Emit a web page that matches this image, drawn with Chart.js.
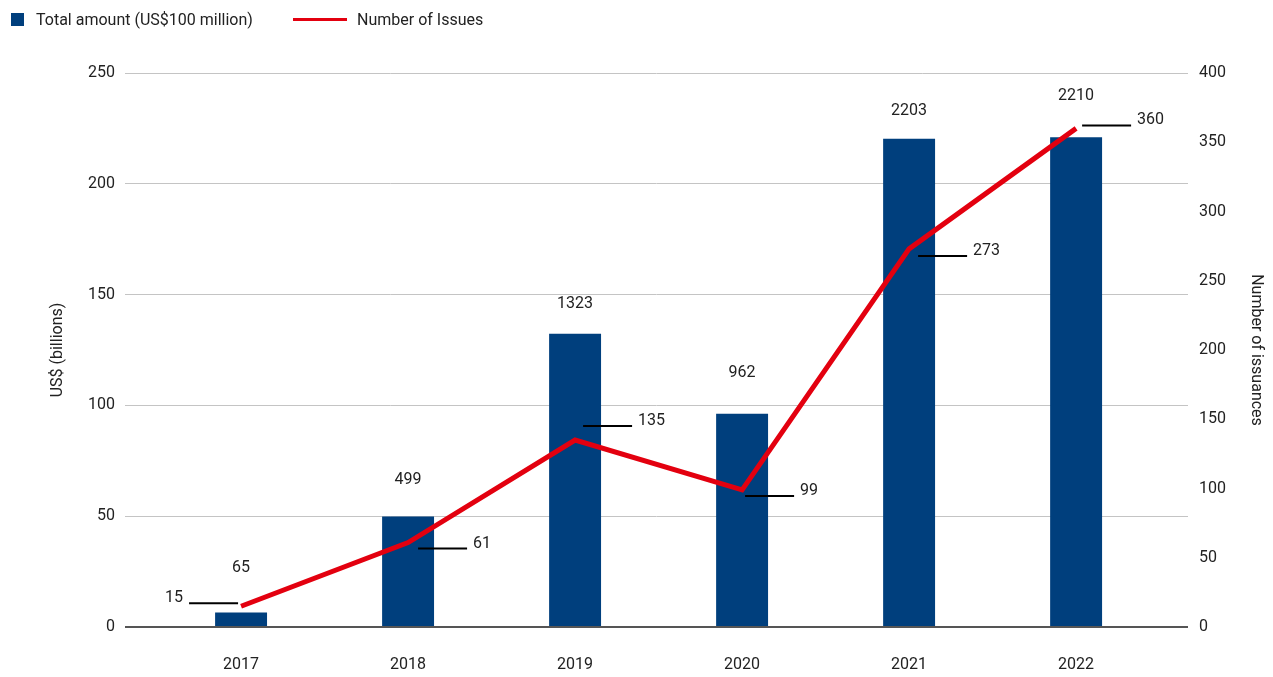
<!DOCTYPE html>
<html>
<head>
<meta charset="utf-8">
<script src="https://cdn.jsdelivr.net/npm/chart.js@4"></script>
<style>
  body { margin: 0; background: #fff; }
  #wrap { position: relative; width: 1273px; height: 677px; }
  #legend { position: absolute; left: 0; top: 0; font-family: Roboto, sans-serif; font-size: 16px; color: #222; }
  #legend .item { position: absolute; top: 10px; white-space: nowrap; }
  #legend .box { position: absolute; }
</style>
</head>
<body>
<div id="wrap">
  <canvas id="c" width="1273" height="677"></canvas>
  <div id="legend"></div>
</div>
<script>
const FONT = "Roboto, sans-serif";

// DATA
const years = ['2017', '2018', '2019', '2020', '2021', '2022'];
const amountBillions = [6.5, 49.9, 132.3, 96.2, 220.3, 221.0];
const amountLabels = ['65', '499', '1323', '962', '2203', '2210'];
const issues = [15, 61, 135, 99, 273, 360];
const leftTicks = [0, 50, 100, 150, 200, 250];
const rightTicks = [0, 50, 100, 150, 200, 250, 300, 350, 400];

// label placement (layout only)
const barLabelLift = [45, 36, 30, 41, 28, 41];
const issueLabelSide = ['left', 'right', 'right', 'right', 'right', 'right'];
const issueLabelDy = [-3, 6, -14, 6, 7, -3];
const issueLabelGap = [3, 10, 8, 3, 9, 6];

const BLUE = '#003f7d';
const RED = '#e3000f';

// custom labels: bar values + leader lines for the issue counts
const labelPlugin = {
    id: 'labels',
    afterDatasetsDraw(chart) {
        const ctx = chart.ctx;
        const x = chart.scales.x, yL = chart.scales.y, yR = chart.scales.y2;
        ctx.save();
        ctx.font = '16px ' + FONT;
        ctx.fillStyle = '#222';
        ctx.textBaseline = 'middle';
        years.forEach((yr, i) => {
            const px = x.getPixelForValue(i);
            ctx.textAlign = 'center';
            ctx.fillText(amountLabels[i], px, yL.getPixelForValue(amountBillions[i]) - barLabelLift[i]);

            const py = yR.getPixelForValue(issues[i]) + issueLabelDy[i];
            const s = issueLabelGap[i];
            ctx.strokeStyle = '#000';
            ctx.lineWidth = 2;
            ctx.beginPath();
            if (issueLabelSide[i] === 'left') {
                ctx.moveTo(px - s - 49, py); ctx.lineTo(px - s, py);
                ctx.stroke();
                ctx.textAlign = 'right';
                ctx.fillText(String(issues[i]), px - s - 55, py - 5);
            } else {
                ctx.moveTo(px + s, py); ctx.lineTo(px + s + 49, py);
                ctx.stroke();
                ctx.textAlign = 'left';
                ctx.fillText(String(issues[i]), px + s + 55, py - 5);
            }
        });
        ctx.restore();
    }
};

const chart = new Chart(document.getElementById('c'), {
    data: {
        datasets: [
            { type: 'line', label: 'Number of Issues', data: issues.map((v, i) => ({ x: i, y: v })), yAxisID: 'y2', borderColor: RED, borderWidth: 5, pointRadius: 0, tension: 0, order: 0 },
            { type: 'bar', label: 'Total amount (US$100 million)', data: amountBillions.map((v, i) => ({ x: i, y: v })), yAxisID: 'y', backgroundColor: BLUE, categoryPercentage: 1, barPercentage: 0.311, order: 1 }
        ]
    },
    options: {
        responsive: false,
        animation: false,
        layout: { padding: { top: 73, left: 0, right: 0, bottom: 0 } },
        plugins: { legend: { display: false }, tooltip: { enabled: false } },
        scales: {
            x: {
                type: 'linear',
                offset: false,
                min: -0.695, max: 5.67,
                afterBuildTicks: s => { s.ticks = years.map((y, i) => ({ value: i })); },
                grid: { display: false, drawTicks: false },
                border: { display: false },
                ticks: { font: { family: FONT, size: 16 }, color: '#222', padding: 28, callback: v => years[v] },
                afterFit: s => { s.height = 50; }
            },
            y: {
                position: 'left',
                min: 0, max: 250,
                afterBuildTicks: s => { s.ticks = leftTicks.map(v => ({ value: v })); },
                grid: {
                    drawTicks: false,
                    color: c => c.tick && c.tick.value === 0 ? '#555' : '#c4c4c4',
                    lineWidth: c => c.tick && c.tick.value === 0 ? 2 : 1
                },
                border: { display: false },
                ticks: { font: { family: FONT, size: 16 }, color: '#222', padding: 10 },
                title: { display: true, text: 'US$ (billions)', font: { family: FONT, size: 16 }, color: '#222', padding: { top: 48, bottom: 0 } },
                afterFit: s => { s.width = 125; }
            },
            y2: {
                position: 'right',
                min: 0, max: 400,
                afterBuildTicks: s => { s.ticks = rightTicks.map(v => ({ value: v })); },
                grid: { display: false, drawTicks: false },
                border: { display: false },
                ticks: { font: { family: FONT, size: 16 }, color: '#222', padding: 11 },
                title: { display: true, text: 'Number of issuances', font: { family: FONT, size: 16 }, color: '#222', padding: { top: 7, bottom: 0 } },
                afterFit: s => { s.width = 85; }
            }
        }
    },
    plugins: [labelPlugin]
});

// LEGEND
const legend = document.getElementById('legend');
const bar = chart.data.datasets[1], line = chart.data.datasets[0];
legend.innerHTML = `
  <div class="box" style="left:11px;top:13px;width:13px;height:13px;background:${BLUE}"></div>
  <div class="item" style="left:36px">${bar.label}</div>
  <div class="box" style="left:293px;top:18px;width:54px;height:3px;background:${RED}"></div>
  <div class="item" style="left:357px">${line.label}</div>`;
</script>
</body>
</html>
